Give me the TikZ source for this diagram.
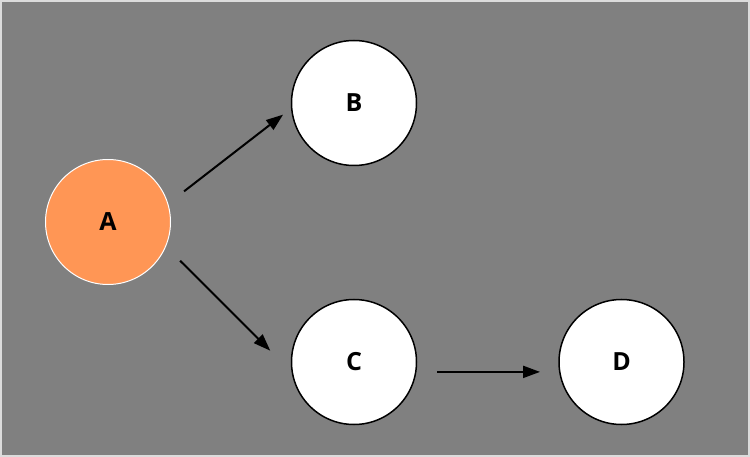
\documentclass[tikz,border=0pt]{standalone}
\usepackage{fontspec}
\setmainfont{Open Sans}
\usetikzlibrary{arrows.meta, positioning}
\definecolor{canvasgray}{RGB}{128,128,128}
\definecolor{framegray}{RGB}{220,220,220}
\definecolor{nodeorange}{RGB}{255,150,85}

\begin{document}
\begin{tikzpicture}[x=1pt, y=-1pt, node distance=141pt,
    vertex/.style={circle, draw=black, line width=1.5pt, fill=white, minimum size=125pt,
                   inner sep=0pt, font=\fontsize{25}{30}\selectfont\bfseries},
    rootnode/.style={vertex, draw=white, line width=1pt, fill=nodeorange},
    link/.style={-{Triangle[length=17pt, width=12pt]}, line width=2pt, black}]

    % canvas
    \fill[framegray] (0,0) rectangle (750,457);
    \fill[canvasgray] (2,2) rectangle (748,455);

    \node[rootnode] (A) at (108,222) {A};
    \node[vertex] (B) at (354,103) {B};
    \node[vertex] (C) at (354,362) {C};
    \node[vertex, right=of C] (D) {D};

    \draw[link, shorten <=20pt, shorten >=10pt] (A.17) -- (B.185);
    \draw[link, shorten <=20pt, shorten >=30pt] (A.-23) -- (C.189);
    \draw[link, shorten <=21pt, shorten >=19pt] (C.-9) -- (D.189);
\end{tikzpicture}
\end{document}
